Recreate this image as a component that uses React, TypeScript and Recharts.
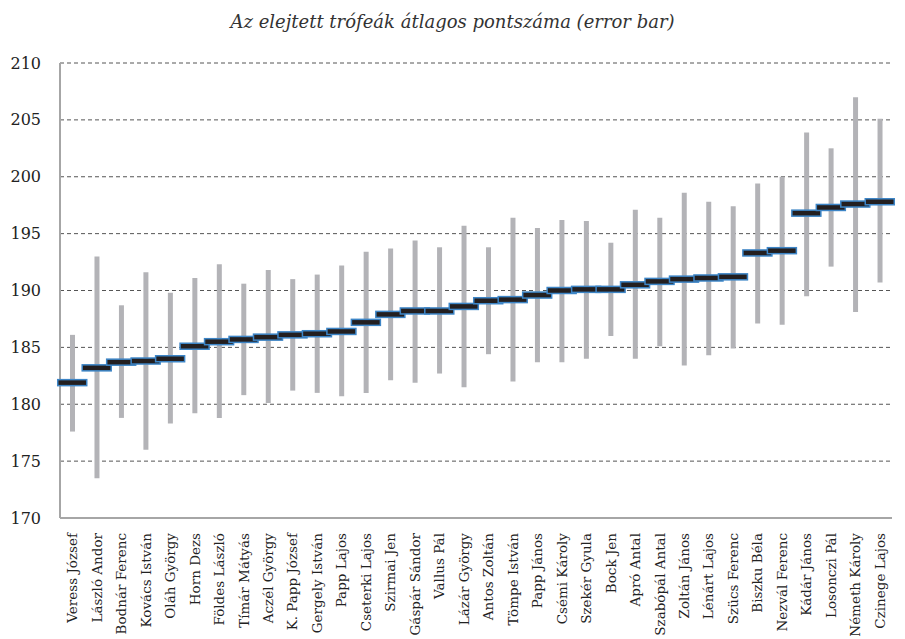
import React from "react";
import {
  ComposedChart,
  Bar,
  Scatter,
  XAxis,
  YAxis,
  CartesianGrid
} from "recharts";

const names = [
  "Veress József", "László Andor", "Bodnár Ferenc", "Kovács István", "Oláh György",
  "Horn Dezs", "Földes László", "Tímár Mátyás", "Aczél György", "K. Papp József",
  "Gergely István", "Papp Lajos", "Cseterki Lajos", "Szirmai Jen", "Gáspár Sándor",
  "Vallus Pál", "Lázár György", "Antos Zoltán", "Tömpe István", "Papp János",
  "Csémi Károly", "Szekér Gyula", "Bock Jen", "Apró Antal", "Szabópál Antal",
  "Zoltán János", "Lénárt Lajos", "Szücs Ferenc", "Biszku Béla", "Nezvál Ferenc",
  "Kádár János", "Losonczi Pál", "Németh Károly", "Czinege Lajos"
];

const means = [
  181.9, 183.2, 183.7, 183.8, 184.0, 185.1, 185.5, 185.7, 185.9, 186.1,
  186.2, 186.4, 187.2, 187.9, 188.2, 188.2, 188.6, 189.1, 189.2, 189.6,
  190.0, 190.1, 190.1, 190.5, 190.8, 191.0, 191.1, 191.2, 193.3, 193.5,
  196.8, 197.3, 197.6, 197.8
];

const lows = [
  177.6, 173.5, 178.8, 176.0, 178.3, 179.2, 178.8, 180.8, 180.1, 181.2,
  181.0, 180.7, 181.0, 182.1, 181.9, 182.7, 181.5, 184.4, 182.0, 183.7,
  183.7, 184.0, 186.0, 184.0, 185.1, 183.4, 184.3, 184.9, 187.1, 187.0,
  189.5, 192.1, 188.1, 190.7
];

const highs = [
  186.1, 193.0, 188.7, 191.6, 189.8, 191.1, 192.3, 190.6, 191.8, 191.0,
  191.4, 192.2, 193.4, 193.7, 194.4, 193.8, 195.7, 193.8, 196.4, 195.5,
  196.2, 196.1, 194.2, 197.1, 196.4, 198.6, 197.8, 197.4, 199.4, 200.0,
  203.9, 202.5, 207.0, 205.1
];

const yTicks = [170, 175, 180, 185, 190, 195, 200, 205, 210];

const data = names.map((name, i) => ({
  name,
  range: [lows[i], highs[i]],
  mean: means[i]
}));

const font = "DejaVu Serif";

const XTick = (props: any) => {
  const { x, y, payload } = props;
  return (
    <text
      x={x}
      y={y + 7}
      transform={`rotate(-90, ${x}, ${y + 7})`}
      textAnchor="end"
      dominantBaseline="central"
      style={{ fontFamily: font, fontSize: 13.5 }}
      fill="#222"
    >
      {payload.value}
    </text>
  );
};

const YTick = (props: any) => {
  const { y, payload } = props;
  return (
    <text
      x={41}
      y={y}
      textAnchor="end"
      dominantBaseline="central"
      style={{ fontFamily: font, fontSize: 16 }}
      fill="#222"
    >
      {payload.value}
    </text>
  );
};

const Marker = (props: any) => {
  const { cx, cy } = props;
  if (cx == null || cy == null) return null;
  return (
    <rect
      x={cx - 14.5}
      y={cy - 3}
      width={29}
      height={6}
      fill="#231f20"
      stroke="#3d85c6"
      strokeWidth={1.5}
    />
  );
};

export default function App() {
  return (
    <div style={{ position: "absolute", left: 0, top: 0, width: 905, height: 639, background: "#fff" }}>
      <div
        style={{
          position: "absolute",
          top: 11,
          left: 0,
          width: 905,
          textAlign: "center",
          fontFamily: font,
          fontStyle: "italic",
          fontSize: 18,
          color: "#333"
        }}
      >
        Az elejtett trófeák átlagos pontszáma (error bar)
      </div>
      <ComposedChart
        width={905}
        height={639}
        data={data}
        margin={{ top: 63, right: 13, left: 0, bottom: 0 }}
      >
        <CartesianGrid vertical={false} strokeDasharray="4 3" stroke="#555" />
        <XAxis
          dataKey="name"
          interval={0}
          height={121}
          tickLine={false}
          axisLine={{ stroke: "#a6a6a6", strokeWidth: 2 }}
          tick={<XTick />}
        />
        <YAxis
          width={60}
          domain={[170, 210]}
          ticks={yTicks}
          tickLine={false}
          axisLine={{ stroke: "#a6a6a6", strokeWidth: 2 }}
          tick={<YTick />}
        />
        <Bar dataKey="range" barSize={5} fill="#b3b3b7" isAnimationActive={false} />
        <Scatter dataKey="mean" shape={<Marker />} isAnimationActive={false} />
      </ComposedChart>
    </div>
  );
}
